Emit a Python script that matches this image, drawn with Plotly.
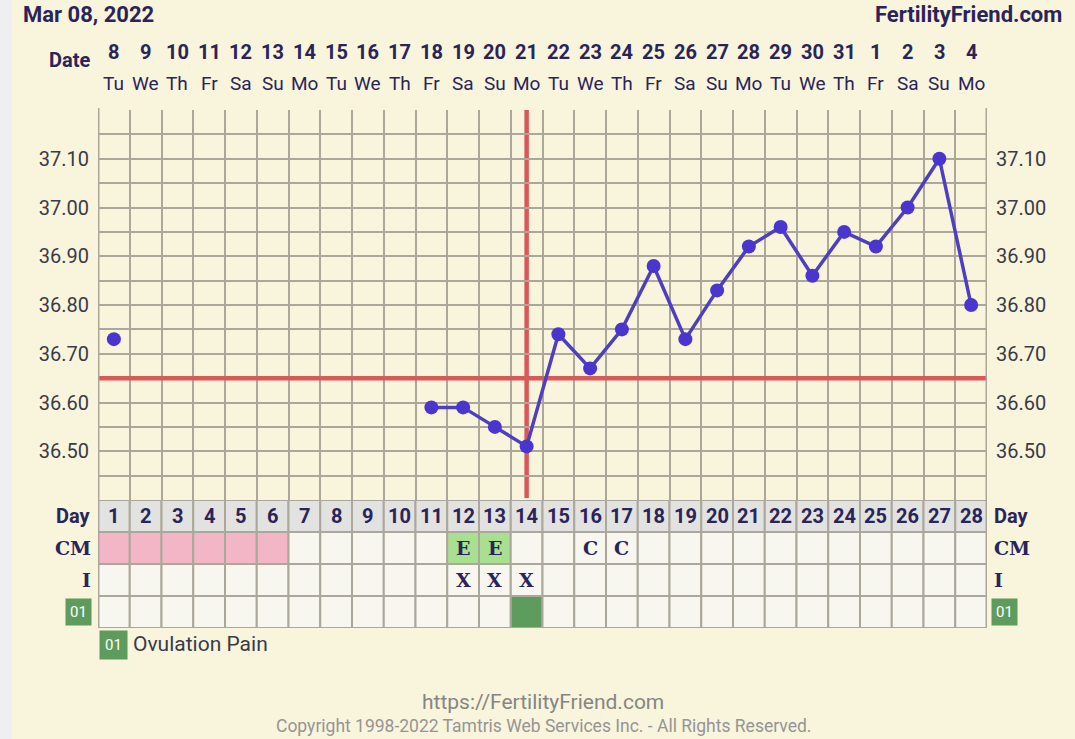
import plotly.graph_objects as go

# ---------------- data ----------------
cycle_days = list(range(1, 29))
date_nums = ["8", "9", "10", "11", "12", "13", "14", "15", "16", "17", "18", "19", "20",
             "21", "22", "23", "24", "25", "26", "27", "28", "29", "30", "31", "1", "2", "3", "4"]
weekdays = ["Tu", "We", "Th", "Fr", "Sa", "Su", "Mo", "Tu", "We", "Th", "Fr", "Sa", "Su", "Mo",
            "Tu", "We", "Th", "Fr", "Sa", "Su", "Mo", "Tu", "We", "Th", "Fr", "Sa", "Su", "Mo"]
temps = [36.73, None, None, None, None, None, None, None, None, None,
         36.59, 36.59, 36.55, 36.51, 36.74, 36.67, 36.75, 36.88, 36.73, 36.83,
         36.92, 36.96, 36.86, 36.95, 36.92, 37.00, 37.10, 36.80]
coverline = 36.65
ovulation_day = 14
temp_ticks = [36.50, 36.60, 36.70, 36.80, 36.90, 37.00, 37.10]
cm_text = ["", "", "", "", "", "", "", "", "", "", "", "E", "E", "", "", "C", "C",
           "", "", "", "", "", "", "", "", "", "", ""]
cm_kind = ["pink"] * 6 + [""] * 5 + ["green", "green"] + [""] * 15
intercourse = [""] * 11 + ["X", "X", "X"] + [""] * 14
ovulation_pain_days = [14]
row_labels = ["Day", "CM", "I"]

# ---------------- style ----------------
W, H = 1075, 739
BG = "#F9F4DC"
NAVY = "#2A2459"
GRID = "#ABA89B"
RED = "#D95858"
LINE = "#4E3FC2"
PINK = "#F2B6C6"
LGREEN = "#A8E090"
DGREEN = "#5E9C5E"
CELL = "#F7F6EF"
DAYROW = "#E2E2E0"

px_left, px_right = 98, 987
px_top, px_temp_bot, px_table_bot = 110, 500, 628

def fx(p):
    return p / W

def fy(p):
    return 1 - p / H

fig = go.Figure()

fig.add_trace(go.Scatter(
    x=cycle_days, y=temps, mode="lines+markers", connectgaps=False,
    line=dict(color=LINE, width=3.5),
    marker=dict(color="#4A36CF", size=14),
    xaxis="x", yaxis="y", hoverinfo="skip", showlegend=False))
fig.add_trace(go.Scatter(x=[cycle_days[0]], y=[temp_ticks[0]], mode="markers",
                         marker=dict(opacity=0), xaxis="x", yaxis="y3",
                         hoverinfo="skip", showlegend=False))
fig.add_trace(go.Scatter(x=[cycle_days[0]], y=[0.5], mode="markers",
                         marker=dict(opacity=0), xaxis="x2", yaxis="y2",
                         hoverinfo="skip", showlegend=False))

shapes = []
annotations = []

def ann(**kw):
    kw.setdefault("showarrow", False)
    kw.setdefault("yanchor", "middle")
    kw.setdefault("xanchor", "center")
    annotations.append(kw)

shapes.append(dict(type="rect", xref="paper", yref="paper", x0=0, x1=fx(12), y0=0, y1=1,
                   fillcolor="#EFEFEF", line=dict(width=0), layer="below"))

for i, d in enumerate(cycle_days):
    for r in range(4):
        if r == 0:
            fill = DAYROW
        elif r == 1 and cm_kind[i] == "pink":
            fill = PINK
        elif r == 1 and cm_kind[i] == "green":
            fill = LGREEN
        elif r == 3 and d in ovulation_pain_days:
            fill = DGREEN
        else:
            fill = CELL
        shapes.append(dict(type="rect", xref="x2", yref="y2", x0=d - 0.5, x1=d + 0.5,
                           y0=r, y1=r + 1, fillcolor=fill,
                           line=dict(color=GRID, width=2), layer="below"))
    ann(x=d, y=0.5, xref="x2", yref="y2", text=f"<b>{d}</b>",
        font=dict(family="Roboto", size=20, color=NAVY))
    if cm_text[i]:
        ann(x=d, y=1.5, xref="x2", yref="y2", text=f"<b>{cm_text[i]}</b>",
            font=dict(family="DejaVu Serif", size=19, color=NAVY))
    if intercourse[i]:
        ann(x=d, y=2.5, xref="x2", yref="y2", text=f"<b>{intercourse[i]}</b>",
            font=dict(family="DejaVu Serif", size=19, color=NAVY))
    ann(x=d, y=fy(52), xref="x", yref="paper", text=f"<b>{date_nums[i]}</b>",
        font=dict(family="Roboto", size=20, color=NAVY))
    ann(x=d, y=fy(84), xref="x", yref="paper", text=weekdays[i],
        font=dict(family="Roboto", size=19, color=NAVY))

for xv in (0.5, 28.5):
    shapes.append(dict(type="line", xref="x", yref="paper", x0=xv, x1=xv,
                       y0=fy(px_table_bot), y1=fy(px_top - 2), line=dict(color=GRID, width=3)))

shapes.append(dict(type="line", xref="x", yref="y", x0=0.5, x1=28.5, y0=coverline, y1=coverline,
                   line=dict(color=RED, width=4.5), layer="between"))
shapes.append(dict(type="line", xref="x", yref="paper", x0=ovulation_day, x1=ovulation_day,
                   y0=fy(498), y1=fy(px_top), line=dict(color=RED, width=4.5), layer="between"))

for r, lab in enumerate(row_labels):
    fam = "Roboto" if lab == "Day" else "DejaVu Serif"
    sz = 20 if lab == "Day" else 19
    ann(x=fx(93), y=r + 0.5, xref="paper", yref="y2", xanchor="right",
        text=f"<b>{lab}</b>", font=dict(family=fam, size=sz, color=NAVY))
    ann(x=fx(992), y=r + 0.5, xref="paper", yref="y2", xanchor="left",
        text=f"<b>{lab}</b>", font=dict(family=fam, size=sz, color=NAVY))
ann(x=fx(92), y=3.5, xref="paper", yref="y2", xanchor="right", text="01",
    bgcolor=DGREEN, borderpad=4, font=dict(family="Roboto", size=15, color="white"))
ann(x=fx(991), y=3.5, xref="paper", yref="y2", xanchor="left", text="01",
    bgcolor=DGREEN, borderpad=4, font=dict(family="Roboto", size=15, color="white"))

ann(x=fx(99), y=fy(645), xref="paper", yref="paper", xanchor="left", text="01",
    bgcolor=DGREEN, borderpad=5, font=dict(family="Roboto", size=15, color="white"))
ann(x=fx(131), y=fy(644), xref="paper", yref="paper", xanchor="left",
    text="Ovulation Pain", font=dict(family="Roboto", size=21, color="#3A3A4A"))

ann(x=fx(21), y=fy(14), xref="paper", yref="paper", xanchor="left",
    text="<b>Mar 08, 2022</b>", font=dict(family="Roboto", size=22, color=NAVY))
ann(x=fx(1064), y=fy(14), xref="paper", yref="paper", xanchor="right",
    text="<b>FertilityFriend.com</b>", font=dict(family="Roboto", size=22, color=NAVY))
ann(x=fx(92), y=fy(60), xref="paper", yref="paper", xanchor="right",
    text="<b>Date</b>", font=dict(family="Roboto", size=20, color=NAVY))

ann(x=fx(543), y=fy(702), xref="paper", yref="paper",
    text="https://FertilityFriend.com", font=dict(family="Roboto", size=21, color="#858585"))
ann(x=fx(543), y=fy(726), xref="paper", yref="paper",
    text="Copyright 1998-2022 Tamtris Web Services Inc. - All Rights Reserved.",
    font=dict(family="Roboto", size=17.5, color="#959595"))

tick_text = [f"{v:.2f}" for v in temp_ticks]

fig.update_layout(
    width=W, height=H, margin=dict(l=0, r=0, t=0, b=0),
    paper_bgcolor=BG, plot_bgcolor=BG, showlegend=False,
    xaxis=dict(domain=[fx(px_left), fx(px_right)], range=[0.5, 28.5], anchor="y",
               tickmode="linear", tick0=0.5, dtick=1, showticklabels=False, ticks="",
               showgrid=True, gridcolor=GRID, gridwidth=2, zeroline=False, showline=False,
               fixedrange=True),
    xaxis2=dict(domain=[fx(px_left), fx(px_right)], range=[0.5, 28.5], anchor="y2",
                showticklabels=False, ticks="", showgrid=False, zeroline=False, showline=False),
    yaxis=dict(domain=[fy(px_temp_bot), fy(px_top)], range=[36.40, 37.20], anchor="x",
               tickmode="array", tickvals=temp_ticks, ticktext=tick_text, ticks="",
               ticklabelstandoff=8,
               tickfont=dict(family="Roboto", size=20, color="#3A3A48"),
               showgrid=True, gridcolor=GRID, gridwidth=2, zeroline=False, showline=False,
               minor=dict(tickmode="linear", tick0=36.40, dtick=0.05, showgrid=True,
                          gridcolor=GRID, gridwidth=2, ticks="")),
    yaxis3=dict(overlaying="y", side="right", anchor="x", range=[36.40, 37.20],
                tickmode="array", tickvals=temp_ticks, ticktext=tick_text, ticks="",
                ticklabelstandoff=8,
                tickfont=dict(family="Roboto", size=20, color="#3A3A48"),
                showgrid=False, zeroline=False, showline=False),
    yaxis2=dict(domain=[fy(px_table_bot), fy(px_temp_bot)], range=[4, 0], anchor="x2",
                showticklabels=False, ticks="", showgrid=False, zeroline=False, showline=False),
    shapes=shapes, annotations=annotations,
)

fig.write_html("out.html", config={"displayModeBar": False},
               post_script="document.body.style.margin='0';")
